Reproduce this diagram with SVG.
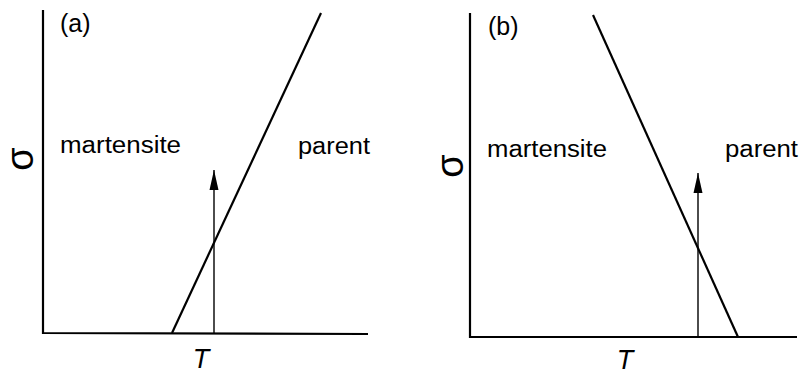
<svg xmlns="http://www.w3.org/2000/svg" width="802" height="376" viewBox="0 0 802 376">
<defs>
<style>
.ax{stroke:#000;stroke-width:2.2;fill:none}
.ln{stroke:#000;stroke-width:2.2;fill:none}
.ar{stroke:#000;stroke-width:1.4;fill:none}
.lb{font-family:"Liberation Sans",Arial,sans-serif;font-size:23px;fill:#000}
.pl{font-family:"Liberation Sans",Arial,sans-serif;font-size:25px;fill:#000}
.tt{font-family:"Liberation Sans",Arial,sans-serif;font-size:27px;font-style:italic;fill:#000}
.sg{font-family:"Liberation Sans",Arial,sans-serif;font-size:38px;fill:#000}
</style>
<marker id="ah" viewBox="0 0 20 10" refX="20" refY="5" markerWidth="20" markerHeight="10" markerUnits="userSpaceOnUse" orient="auto">
<path d="M20,5 L0,0.5 L0,9.5 Z" fill="#000"/>
</marker>
</defs>
<g id="panel-a">
<g id="axes-a">
<polyline class="ax" points="43,10 43,333 368,334"/>
</g>
<g id="label-a"><text class="pl" x="60" y="32">(a)</text></g>
<g id="sigma-a"><text class="sg" transform="translate(23,159) rotate(-90)" x="0" y="10" text-anchor="middle">σ</text></g>
<g id="T-a"><text class="tt" x="201" y="368" text-anchor="middle">T</text></g>
<g id="martensite-a"><text class="lb" x="60" y="153" textLength="121" lengthAdjust="spacingAndGlyphs">martensite</text></g>
<g id="parent-a"><text class="lb" x="298" y="154" textLength="72" lengthAdjust="spacingAndGlyphs">parent</text></g>
</g>
<g id="panel-b">
<g id="axes-b">
<polyline class="ax" points="470,13 470,337 797,337"/>
</g>
<g id="label-b"><text class="pl" x="488" y="35">(b)</text></g>
<g id="sigma-b"><text class="sg" transform="translate(453,166) rotate(-90)" x="0" y="10" text-anchor="middle">σ</text></g>
<g id="T-b"><text class="tt" x="625" y="369" text-anchor="middle">T</text></g>
<g id="martensite-b"><text class="lb" x="487" y="157" textLength="120" lengthAdjust="spacingAndGlyphs">martensite</text></g>
<g id="parent-b"><text class="lb" x="725" y="157" textLength="73" lengthAdjust="spacingAndGlyphs">parent</text></g>
</g>
<g id="connectors">
<line class="ln" x1="172" y1="333" x2="321" y2="13"/>
<line class="ar" x1="214" y1="333" x2="214" y2="170" marker-end="url(#ah)"/>
<line class="ln" x1="593" y1="15" x2="738" y2="337"/>
<line class="ar" x1="698" y1="337" x2="698" y2="173" marker-end="url(#ah)"/>
</g>
</svg>
